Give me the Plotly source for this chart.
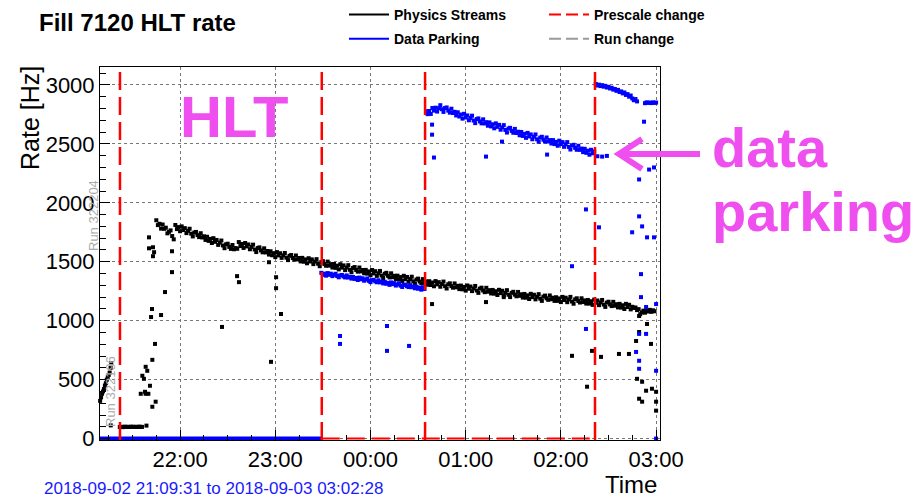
import pandas as pd
import plotly.graph_objects as go

# ---------------- data (minutes after 2018-09-02 21:00:00) ----------------
BASE = pd.Timestamp("2018-09-02 21:00:00")
T_START = "2018-09-02 21:09:31"
T_END = "2018-09-03 03:02:28"

# Physics streams: main band, one reading per minute from 21:45 to 02:59
phys_band_start = 45
phys_band_hz = [
    1852, 1811, 1822, 1781, 1816, 1779, 1789, 1741, 1754, 1766, 1718, 1690,
    1812, 1777, 1794, 1759, 1800, 1769, 1785, 1743, 1762, 1780, 1738, 1715, 1748, 1753, 1726, 1709, 1742, 1706,
    1716, 1685, 1712, 1677, 1694, 1659, 1700, 1669, 1685, 1643, 1662, 1680, 1638, 1615, 1648, 1653, 1626, 1609,
    1642, 1606, 1616,
    1610, 1667, 1633, 1651, 1617, 1659, 1630, 1647, 1606, 1626, 1645, 1604, 1582, 1616, 1622, 1596, 1580, 1614,
    1579, 1591, 1561, 1589, 1555, 1573, 1539,
    1582, 1554, 1572, 1533, 1554, 1574, 1535, 1514, 1550, 1557, 1532, 1518, 1553, 1520, 1532, 1503, 1533, 1500,
    1520, 1487, 1530, 1502, 1520, 1480, 1502, 1522, 1483, 1462, 1497, 1505, 1480, 1466, 1501, 1467, 1480, 1451,
    1481, 1448, 1467, 1435,
    1479, 1450, 1469, 1429, 1451, 1471, 1432, 1411, 1447, 1455, 1430, 1416, 1451, 1418, 1430, 1402, 1431, 1399,
    1418, 1386, 1430, 1401, 1420, 1380, 1402, 1422, 1383, 1362, 1398, 1406, 1381, 1367, 1402, 1369, 1381, 1353,
    1382, 1350, 1370, 1337, 1381, 1352, 1371, 1331, 1353, 1373, 1334, 1314, 1349, 1357, 1332, 1318, 1353, 1320,
    1333, 1305, 1335, 1303, 1324, 1292, 1336, 1308, 1327, 1288, 1311, 1332, 1293, 1273, 1309, 1317, 1293, 1280,
    1316, 1283, 1296, 1268, 1298, 1266, 1287, 1255, 1299, 1271, 1290, 1251, 1273, 1295, 1256, 1236, 1272, 1280,
    1256, 1242, 1279, 1246, 1259, 1231, 1261, 1229, 1250, 1218, 1262,
    1234, 1254, 1215, 1237, 1259, 1220, 1200, 1236, 1245, 1221, 1207, 1244, 1211, 1224, 1196, 1227, 1195, 1215,
    1184, 1228, 1200, 1220, 1181, 1203, 1225,
    1187, 1168, 1204, 1213, 1190, 1177, 1214, 1182, 1195, 1168, 1199, 1168, 1189, 1158, 1202, 1175, 1195, 1157,
    1180, 1202, 1163, 1144, 1181, 1190, 1167, 1154, 1190, 1158, 1172, 1145, 1176, 1145, 1165, 1134, 1179, 1152,
    1171, 1132, 1155, 1176, 1137, 1117, 1153, 1161, 1138, 1124, 1160, 1127, 1140, 1113, 1143, 1111, 1131, 1099,
    1143, 1116, 1135, 1096, 1118,
    1108, 1112, 1090, 1098, 1055, 1070, 1085, 1068, 1090, 1078, 1092, 1075, 1088, 1080]
phys_band_min = list(range(phys_band_start, phys_band_start + len(phys_band_hz)))

# Physics streams: start of fill, low plateau and scattered points
phys_other_min = [9.6, 10.2, 10.8, 11.4, 12.0, 12.6, 13.2, 13.8, 14.4, 15.0, 15.6, 16.2, 16.6, 16.3,
                  22.0, 23.0, 24.0, 25.0, 26.0, 27.0, 28.0, 29.0, 30.0, 31.0, 32.0, 33.0, 34.0, 35.0, 36.0, 38.8,
                  35.2, 38.3, 40.0, 37.9, 36.2, 37.2, 38.3, 39.3, 41.0, 42.5, 44.6, 42.5, 44.2,
                  42.3, 41.7, 48.0, 40.4, 40.4, 42.9, 43.6, 42.9, 54.9, 54.9, 50.5,
                  86.4, 95.9, 97.1, 120.5, 120.5, 123.6, 116.0, 117.3, 218.8, 252.8, 264.0,
                  349.3, 354.3, 347.4, 356.8, 319.6, 325.3, 307.0, 336.6, 342.9, 316.5, 348.0, 351.2, 353.7,
                  357.4, 349.3, 351.2, 360.0, 360.0, 360.0, 349.3]
phys_other_hz = [320, 350, 380, 400, 420, 450, 470, 500, 520, 540, 560, 600, 640, 112,
                 98, 100, 97, 101, 99, 100, 98, 101, 100, 99, 100, 98, 101, 100, 99, 110,
                 380, 380, 380, 397, 533, 507, 609, 575, 448, 270, 313, 668, 803,
                 1099, 1031, 1048, 1707, 1614, 1623, 1581, 1547, 1589, 1412, 1243,
                 947, 1378, 1327, 1369, 1276, 1057, 1496, 651, 1141, 1158, 1200,
                 904, 972, 828, 803, 744, 693, 702, 718, 718, 440, 507, 482, 406,
                 423, 338, 313, 397, 313, 237, 1040]

# Data parking, low band (23:29 - 00:34), one reading per minute
park_low_start = 149
park_low_hz = [
    1406, 1389, 1399, 1382, 1404, 1389, 1399, 1378, 1389, 1398, 1379, 1368, 1385, 1388, 1375, 1367, 1384, 1366,
    1372, 1357, 1371, 1354, 1363, 1345, 1366, 1351, 1360, 1339, 1349, 1358, 1338, 1327, 1344, 1347, 1334, 1326,
    1343, 1325, 1331, 1316, 1330, 1313, 1321, 1304, 1325, 1310, 1319, 1298, 1308, 1317, 1297, 1286, 1303, 1306,
    1293, 1285, 1302, 1284, 1290, 1275, 1289, 1271, 1280, 1263, 1284, 1269]
park_low_min = list(range(park_low_start, park_low_start + len(park_low_hz)))

# Data parking, high band (00:35 - 02:21), one reading per minute
park_high_start = 215
park_high_hz = [
    2777, 2752, 2779, 2754, 2804, 2782, 2807, 2774, 2802, 2828, 2794, 2771, 2804, 2809, 2782, 2765, 2798, 2762,
    2772, 2741, 2768, 2732, 2749, 2714, 2755, 2724, 2741, 2700, 2720, 2739, 2698, 2676, 2710, 2716, 2690, 2674,
    2708, 2673, 2684, 2654, 2682, 2648, 2666, 2632, 2674, 2644, 2661, 2620, 2640, 2659, 2618, 2596, 2630, 2636,
    2610, 2594, 2627, 2592, 2603, 2573, 2601, 2567, 2585, 2551, 2593, 2563, 2580, 2539, 2560, 2580, 2539, 2518,
    2553, 2560, 2535, 2520, 2554, 2520, 2532, 2503, 2532, 2498, 2517, 2484, 2527, 2498, 2515, 2475, 2496, 2515,
    2474, 2452, 2486, 2492, 2466, 2450, 2484, 2449, 2460, 2430, 2458, 2424, 2442, 2408, 2450, 2420, 2437]
park_high_min = list(range(park_high_start, park_high_start + len(park_high_hz)))

# Data parking, after the last prescale change
park_top_min = [323, 326, 329,
                322, 323, 324, 325, 326, 327, 328, 329, 330, 331, 332, 333, 334, 335, 336, 337, 338, 339, 340,
                341, 342, 343, 344, 345, 346, 347, 348, 353, 354, 355, 356, 357, 358, 359, 360]
park_top_hz = [2395, 2392, 2398,
               3008, 2995, 3002, 2990, 2998, 2985, 2992, 2978, 2984, 2970, 2976, 2960, 2966, 2950, 2958, 2940,
               2945, 2928, 2936, 2915, 2922, 2900, 2910, 2885, 2870, 2880, 2860, 2845, 2852, 2848, 2850, 2846,
               2852, 2848, 2850]

# Data parking, scattered points
park_other_min = [218.8, 218.8, 220.0, 252.8, 262.9, 291.3, 315.8, 324.0, 307.0, 352.4, 349.3, 355.6, 358.7, 349.3,
                  351.2, 354.3, 358.7, 344.9, 350.5, 350.5, 353.7, 360.0, 315.8, 349.3, 353.7, 347.4, 349.3, 349.3,
                  360.0, 360.0, 160.8, 160.8, 190.4, 190.4, 204.3]
park_other_hz = [2663, 2578, 2384, 2392, 2519, 2409, 1944, 1792, 1462, 2688, 2198, 2282, 2300, 1885,
                 1800, 1707, 1707, 1750, 1395, 1200, 1116, 1141, 930, 888, 888, 735, 660, 592,
                 575, 0, 870, 803, 955, 744, 786]

# Zero-rate parking stretch and prescale-change markers on the time axis
park_zero_min = [9.52, 149.3]
prescale_floor_min = [149.3, 321.5]
prescale_change_min = [22.1, 149.3, 214.4, 321.5]

run_labels = ["Run 322204", "Run 322196"]

# ---------------- helpers ----------------
def to_time(mins):
    return [BASE + pd.Timedelta(minutes=m) for m in mins]

L, R, TOP, BOT = 100, 660, 67, 440
def px(x):
    return (x - L) / (R - L)
def py(y):
    return (BOT - y) / (BOT - TOP)

FONT = "Liberation Sans, Arial, Helvetica, sans-serif"
BLACK, BLUE, RED, GREY, PINK = "#000000", "#0000ff", "#ff0000", "#9a9a9a", "#ef4fef"

fig = go.Figure()

# zero-rate parking line and prescale floor line
fig.add_trace(go.Scatter(x=to_time(park_zero_min), y=[0, 0], mode="lines",
                         line=dict(color=BLUE, width=4), showlegend=False, hoverinfo="skip"))
fig.add_trace(go.Scatter(x=to_time(prescale_floor_min), y=[0, 0], mode="lines",
                         line=dict(color=RED, width=2, dash="18px,7px"), showlegend=False, hoverinfo="skip"))

mk = dict(symbol="square", size=4, line=dict(width=0))
for xs, ys in [(phys_band_min, phys_band_hz), (phys_other_min, phys_other_hz)]:
    fig.add_trace(go.Scatter(x=to_time(xs), y=ys, mode="markers", cliponaxis=False,
                             marker=dict(color=BLACK, **mk), showlegend=False))
for xs, ys in [(park_low_min, park_low_hz), (park_high_min, park_high_hz),
               (park_top_min, park_top_hz), (park_other_min, park_other_hz)]:
    fig.add_trace(go.Scatter(x=to_time(xs), y=ys, mode="markers", cliponaxis=False,
                             marker=dict(color=BLUE, **mk), showlegend=False))

# legend entries
fig.add_trace(go.Scatter(x=[None], y=[None], mode="lines", name="Physics Streams",
                         line=dict(color=BLACK, width=2), legend="legend", legendgroup="a"))
fig.add_trace(go.Scatter(x=[None], y=[None], mode="lines", name="Data Parking",
                         line=dict(color=BLUE, width=2), legend="legend", legendgroup="b"))
fig.add_trace(go.Scatter(x=[None], y=[None], mode="lines", name="Prescale change",
                         line=dict(color=RED, width=2, dash="12px,5px"), legend="legend2", legendgroup="c"))
fig.add_trace(go.Scatter(x=[None], y=[None], mode="lines", name="Run change",
                         line=dict(color=GREY, width=2, dash="12px,5px"), legend="legend2", legendgroup="d"))

# prescale change lines
for t in to_time(prescale_change_min):
    fig.add_shape(type="line", xref="x", yref="paper", x0=t, x1=t, y0=0, y1=1,
                  line=dict(color=RED, width=2.5, dash="18px,7px"))

# arrow (pink)
arrow_path = (f"M {px(700)},{py(154)} L {px(621)},{py(154)} "
              f"M {px(642)},{py(139)} L {px(619)},{py(154)} L {px(642)},{py(169)}")
fig.add_shape(type="path", xref="paper", yref="paper", path=arrow_path,
              line=dict(color=PINK, width=6))

ann = []
ann.append(dict(text="<b>Fill 7120 HLT rate</b>", x=px(37), y=py(23), xanchor="left", yanchor="middle",
                font=dict(size=24, color=BLACK)))
ann.append(dict(text="Rate [Hz]", x=px(30), y=py(118), xanchor="center", yanchor="middle", textangle=-90,
                font=dict(size=25, color=BLACK)))
ann.append(dict(text="Time", x=px(659), y=py(484), xanchor="right", yanchor="middle",
                font=dict(size=24, color=BLACK)))
ann.append(dict(text=f"{T_START} to {T_END}", x=px(42), y=py(488), xanchor="left", yanchor="middle",
                font=dict(size=17, color="#1a1aff")))
ann.append(dict(text=run_labels[0], x=px(93), y=py(216), xanchor="center", yanchor="middle", textangle=-90,
                font=dict(size=13, color="#aaaaaa")))
ann.append(dict(text=run_labels[1], x=px(110), y=py(392), xanchor="center", yanchor="middle", textangle=-90,
                font=dict(size=13, color="#aaaaaa")))
ann.append(dict(text="<b>HLT</b>", x=px(178), y=py(116), xanchor="left", yanchor="middle",
                font=dict(size=58, color=PINK)))
ann.append(dict(text="<b>data</b>", x=px(710), y=py(147), xanchor="left", yanchor="middle",
                font=dict(size=56, color=PINK)))
ann.append(dict(text="<b>parking</b>", x=px(710), y=py(211), xanchor="left", yanchor="middle",
                font=dict(size=56, color=PINK)))
for a in ann:
    a.update(xref="paper", yref="paper", showarrow=False)

fig.update_layout(
    width=924, height=498,
    margin=dict(l=L, r=924 - R, t=TOP, b=498 - BOT, pad=0, autoexpand=False),
    paper_bgcolor="white", plot_bgcolor="white",
    font=dict(family=FONT, color=BLACK),
    annotations=ann,
    legend=dict(x=px(344), y=py(-1), xanchor="left", yanchor="top", tracegroupgap=3,
                font=dict(size=14, weight="bold"), bgcolor="rgba(0,0,0,0)", itemwidth=40),
    legend2=dict(x=px(544), y=py(-1), xanchor="left", yanchor="top", tracegroupgap=3,
                 font=dict(size=14, weight="bold"), bgcolor="rgba(0,0,0,0)", itemwidth=40),
)

fig.update_xaxes(
    type="date", range=[T_START, T_END],
    showline=True, linecolor=BLACK, linewidth=1, mirror=True,
    ticks="inside", ticklen=10, tickcolor=BLACK, tickwidth=1,
    tick0="2018-09-02 22:00:00", dtick=3600000, tickformat="%H:%M",
    tickfont=dict(size=22, color=BLACK),
    showgrid=True, gridcolor="#777777", griddash="dot", gridwidth=1, zeroline=False,
    minor=dict(dtick=900000, ticks="inside", ticklen=5, tickcolor=BLACK, showgrid=False),
)
fig.update_yaxes(
    range=[-12, 3152],
    showline=True, linecolor=BLACK, linewidth=1, mirror=True,
    ticks="inside", ticklen=10, tickcolor=BLACK, tickwidth=1,
    tick0=0, dtick=500, tickfont=dict(size=22, color=BLACK),
    showgrid=True, gridcolor="#777777", griddash="dot", gridwidth=1, zeroline=False,
    minor=dict(dtick=100, ticks="inside", ticklen=6, tickcolor=BLACK, showgrid=False),
)

fig.write_html("out.html", config={"displayModeBar": False},
               post_script="document.body.style.margin='0px';")
